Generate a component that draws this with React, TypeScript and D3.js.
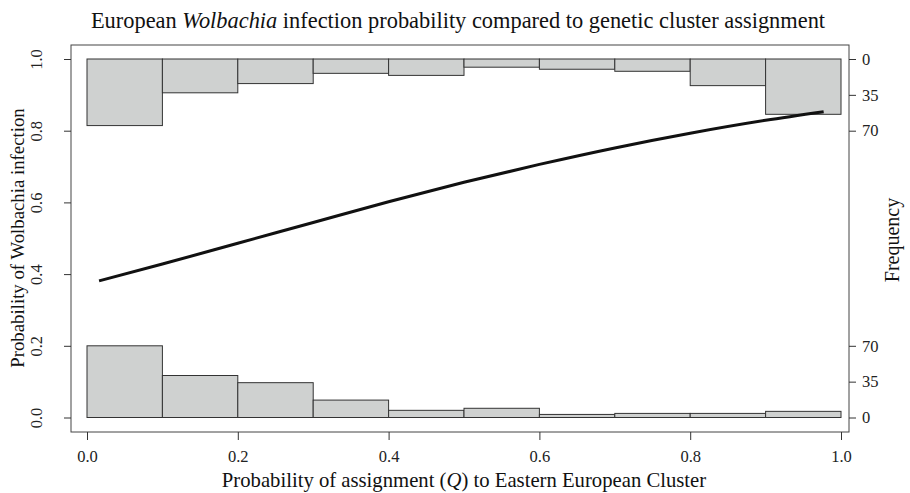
import React, { useEffect, useRef } from "react";
import * as d3 from "d3";

// histogram bins on Q
const binEdges = [0, 0.1, 0.2, 0.3, 0.4, 0.5, 0.6, 0.7, 0.8, 0.9, 1.0];
// infected (top, hanging from 1.0) and uninfected (bottom) counts per bin
const infectedCounts = [65, 33, 24, 14, 16, 8, 10, 12, 26, 54];
const uninfectedCounts = [70, 41, 34, 17, 7, 9, 3, 4, 4, 6];
// fitted curve
const curveQ = [0.016, 0.1, 0.2, 0.3, 0.4, 0.5, 0.6, 0.7, 0.8, 0.9, 0.977];
const curveP = [0.381, 0.428, 0.486, 0.544, 0.602, 0.656, 0.706, 0.752, 0.793, 0.829, 0.853];

const xTicks = [0, 0.2, 0.4, 0.6, 0.8, 1.0];
const yTicks = [0, 0.2, 0.4, 0.6, 0.8, 1.0];
const freqTicks = [0, 35, 70];

const W = 910;
const H = 493;
const FONT = "'Liberation Serif', 'Times New Roman', serif";

const App = () => {
  const svgRef = useRef<SVGSVGElement>(null);

  useEffect(() => {
    const svg = d3.select(svgRef.current);
    svg.selectAll("*").remove();

    const x = d3.scaleLinear().domain([0, 1]).range([87, 841]);
    const y = d3.scaleLinear().domain([0, 1]).range([417.5, 59]);
    // frequency -> probability units
    const f = d3.scaleLinear().domain([0, 70]).range([0, 0.2]);

    const box = { left: 71, right: 849, top: 45, bottom: 432 };

    svg.append("rect")
      .attr("x", box.left)
      .attr("y", box.top)
      .attr("width", box.right - box.left)
      .attr("height", box.bottom - box.top)
      .attr("fill", "white")
      .attr("stroke", "#444")
      .attr("stroke-width", 1);

    const bins = infectedCounts.map((c, i) => ({ x0: binEdges[i], x1: binEdges[i + 1], top: c, bottom: uninfectedCounts[i] }));

    // top histogram
    svg.append("g").selectAll("rect")
      .data(bins)
      .enter().append("rect")
      .attr("x", d => x(d.x0))
      .attr("y", y(1))
      .attr("width", d => x(d.x1) - x(d.x0))
      .attr("height", d => y(1 - f(d.top)) - y(1))
      .attr("fill", "#cfd1d0")
      .attr("stroke", "#333")
      .attr("stroke-width", 1);

    // bottom histogram
    svg.append("g").selectAll("rect")
      .data(bins)
      .enter().append("rect")
      .attr("x", d => x(d.x0))
      .attr("y", d => y(f(d.bottom)))
      .attr("width", d => x(d.x1) - x(d.x0))
      .attr("height", d => y(0) - y(f(d.bottom)))
      .attr("fill", "#cfd1d0")
      .attr("stroke", "#333")
      .attr("stroke-width", 1);

    const pts = curveQ.map((q, i) => [q, curveP[i]] as [number, number]);
    const line = d3.line<[number, number]>()
      .x(d => x(d[0]))
      .y(d => y(d[1]))
      .curve(d3.curveMonotoneX);

    svg.append("path")
      .datum(pts)
      .attr("fill", "none")
      .attr("stroke", "#111")
      .attr("stroke-width", 3)
      .attr("d", line);

    // bottom axis
    const xAxis = svg.append("g")
      .attr("transform", `translate(0,${box.bottom})`)
      .call(d3.axisBottom(x).tickValues(xTicks).tickFormat(d3.format(".1f")).tickSize(8).tickPadding(10).tickSizeOuter(0));
    xAxis.select(".domain").remove();

    // left axis
    const yAxis = svg.append("g")
      .attr("transform", `translate(${box.left},0)`)
      .call(d3.axisLeft(y).tickValues(yTicks).tickFormat(d3.format(".1f")).tickSize(7).tickSizeOuter(0));
    yAxis.select(".domain").remove();
    yAxis.selectAll(".tick text")
      .attr("x", 0)
      .attr("dy", 0)
      .attr("text-anchor", "middle")
      .attr("transform", "translate(-33,0) rotate(-90)")
      .attr("dominant-baseline", "middle");

    // right axes (frequency)
    const fTop = d3.scaleLinear().domain([0, 70]).range([y(1), y(1 - f(70))]);
    const fBot = d3.scaleLinear().domain([0, 70]).range([y(0), y(f(70))]);
    [fTop, fBot].forEach(s => {
      const g = svg.append("g")
        .attr("transform", `translate(${box.right},0)`)
        .call(d3.axisRight(s).tickValues(freqTicks).tickSize(7).tickPadding(6).tickSizeOuter(0));
      g.select(".domain").remove();
    });

    svg.selectAll(".tick line").attr("stroke", "#333");
    svg.selectAll(".tick text")
      .attr("fill", "#222")
      .attr("font-family", FONT)
      .attr("font-size", "16.5px");

    svg.append("text")
      .attr("x", 458)
      .attr("y", 28)
      .attr("text-anchor", "middle")
      .attr("font-family", FONT)
      .attr("font-size", "22.4px")
      .attr("fill", "#111")
      .call(t => {
        t.append("tspan").text("European ");
        t.append("tspan").attr("font-style", "italic").text("Wolbachia");
        t.append("tspan").text(" infection probability compared to genetic cluster assignment");
      });

    svg.append("text")
      .attr("x", 464)
      .attr("y", 487)
      .attr("text-anchor", "middle")
      .attr("font-family", FONT)
      .attr("font-size", "20.7px")
      .attr("fill", "#111")
      .call(t => {
        t.append("tspan").text("Probability of assignment (");
        t.append("tspan").attr("font-style", "italic").text("Q");
        t.append("tspan").text(") to Eastern European Cluster");
      });

    svg.append("text")
      .attr("transform", "translate(24,238) rotate(-90)")
      .attr("text-anchor", "middle")
      .attr("font-family", FONT)
      .attr("font-size", "18.8px")
      .attr("fill", "#111")
      .text("Probability of Wolbachia infection");

    svg.append("text")
      .attr("transform", "translate(899,240) rotate(-90)")
      .attr("text-anchor", "middle")
      .attr("font-family", FONT)
      .attr("font-size", "20px")
      .attr("fill", "#111")
      .text("Frequency");
  }, []);

  return (
    <svg ref={svgRef} width={W} height={H} style={{ position: "absolute", top: 0, left: 0, background: "white" }} />
  );
};

export default App;
